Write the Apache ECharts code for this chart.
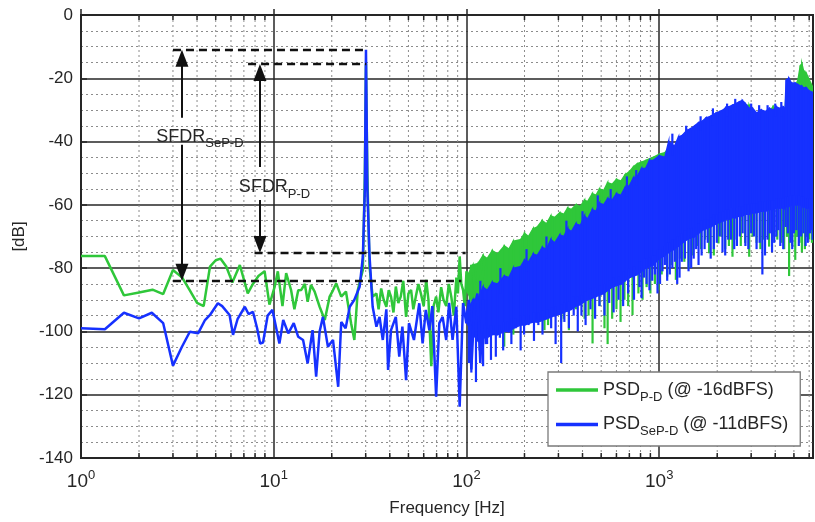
<!DOCTYPE html>
<html lang="en">
<head>
<meta charset="UTF-8">
<title>PSD / SFDR</title>
<script src="https://cdn.jsdelivr.net/npm/echarts@6/dist/echarts.min.js"></script>
<style>
  html, body { margin: 0; padding: 0; background: #fff; }
  #chart { width: 815px; height: 522px; }
</style>
</head>
<body>
<div id="chart"></div>
<script>
var FONT = 'Liberation Sans, Arial, sans-serif';
var INK = '#262626';
var GREEN = '#2fc73a';
var BLUE = '#1631ff';
var FMIN = 1, FMAX = 6280;

// low part of the spectra (Hz, dB), read point by point
var pdLowF = [1, 1.33, 1.67, 2, 2.35, 2.67, 3, 3.35, 3.67, 4, 4.33, 4.67, 5, 5.3, 5.67, 6.1, 6.67, 7.33, 7.8, 8.33,
  8.97, 9.5, 10.1, 10.5, 11.1, 11.6, 12.3, 12.8, 13.4, 13.9, 14.5, 15, 15.6, 16.3, 17.3, 18.4, 19.5, 20.3, 21.1, 22.4,
  23.7, 25.2, 26.2, 27.3, 29, 29.7, 30.1, 30.6, 31.4, 32.6, 34.1, 35, 36.1, 37.2, 38.4, 39.5, 40.6, 41.8, 43, 44.3,
  45.6, 47, 48.6, 50, 51.6, 53, 54.6, 56.3, 58, 60, 61.8, 63.5, 65.7, 67.5, 69.6, 71.5, 73.9, 76, 78.5, 81,
  83.4, 86, 88.6, 90.3, 92.2, 94, 96, 98, 100, 102, 104, 106, 108, 112, 116, 120, 124];
var pdLowV = [-76.2, -76.2, -88.6, -87.7, -86.8, -88.2, -80.6, -83, -87, -91, -92, -79.5, -77.5, -77, -79.5, -84.5, -79, -88, -85, -82.5,
  -81, -91.5, -86, -81, -92, -81.6, -86.9, -93, -87, -86.9, -85, -90.6, -85.3, -87.4, -92.2, -96.4, -89, -87, -84.8, -89,
  -87.4, -97.4, -102.7, -86.9, -80.6, -50, -15.5, -50, -79.5, -89, -88, -93, -86.4, -90, -92.2, -87, -89, -94, -85.8, -91,
  -89, -84, -95.4, -88, -86.9, -93, -89, -85, -88, -92, -83.7, -90, -111, -92, -89, -94, -86, -90, -92, -85,
  -89, -95, -83, -88, -76.3, -85, -86.9, -92, -81, -80.6, -85, -79, -80, -90, -78, -86, -77];

var sepdLowF = [1, 1.33, 1.67, 2, 2.33, 2.67, 3, 3.33, 3.67, 4.05, 4.4, 4.67, 5.13, 5.4, 5.9, 6.15, 6.5, 7.08, 7.4, 7.8,
  8.2, 8.5, 8.8, 9.3, 9.85, 10.7, 11.2, 11.9, 12.7, 13.4, 14.2, 15, 15.9, 16.6, 17.3, 18, 19.1, 20.3, 21.6, 22.4,
  23.6, 24.8, 26.2, 27.9, 29, 29.7, 30.1, 30.6, 31.4, 32.6, 34.1, 35.4, 36.8, 38.4, 39.2, 40.6, 43, 44.8, 46.5, 48.6,
  50.3, 53.4, 56.9, 59.2, 61.5, 64.2, 66.5, 69.6, 72.3, 75.2, 78.5, 81.3, 84.7, 88.6, 92.2, 96, 99.8, 103, 106, 110,
  114, 118, 122, 126];
var sepdLowV = [-99, -99.3, -94.1, -95.9, -94.1, -97.4, -110.8, -105, -100.1, -100.6, -96.4, -94.8, -91.1, -92, -94.8, -101.1, -96, -92.2, -94.5, -93.8,
  -99, -103.8, -103.5, -95, -93.2, -103.8, -96.4, -100.6, -97.4, -101.7, -102.7, -110.1, -99.6, -114.3, -100, -95.4, -104.8, -102.7, -117.5, -97,
  -99, -92.2, -90, -85.9, -76.4, -55, -11, -55, -76, -92.2, -98.5, -95.4, -102.7, -93, -112.2, -99.6, -95.4, -108, -98.5, -115.4,
  -97.4, -102.7, -91.1, -103.8, -93.2, -99.6, -92, -120.6, -97.4, -95.4, -102.7, -91, -102.7, -92.2, -123.8, -91, -97.4, -90, -112, -92,
  -88, -110, -90, -104];

// dense part above 100 Hz: upper edge and lower edge of the filled body
var bandF = [100, 108, 115, 122, 128, 136, 145, 157, 166, 175, 191, 200, 210, 222, 233, 247, 260, 274, 287, 305,
  320, 335, 350, 370, 390, 410, 425, 450, 470, 490, 515, 540, 570, 600, 633, 665, 700, 735, 770, 810,
  850, 890, 930, 1000, 1070, 1120, 1200, 1260, 1320, 1390, 1450, 1530, 1600, 1680, 1750, 1850, 1970, 2060, 2150, 2230,
  2310, 2400, 2500, 2600, 2700, 2800, 2930, 3050, 3200, 3380, 3560, 3730, 3900, 4050, 4200, 4400, 4500, 4560, 4700, 4850,
  5080, 5250, 5400, 5500, 5600, 5800, 6000, 6280];
var sepdTop = [-94, -90, -89.5, -86, -87, -84.5, -85, -82.5, -83, -80, -79.5, -77.5, -78, -75.5, -76, -73.5, -74, -71, -72, -69.5,
  -70, -67.5, -68.5, -66, -66.5, -63.5, -64.5, -61.5, -62, -59.5, -60, -58, -58.5, -56.5, -57, -54.5, -54, -51.5, -51, -48.5,
  -48.5, -46, -46, -44.5, -45, -40, -41.5, -38.5, -38, -36.5, -36, -35, -34, -33.5, -32.5, -32, -31, -30.5, -30, -29,
  -29, -28.5, -28, -27.5, -27, -28, -29.5, -29.5, -31, -30, -30.5, -29.5, -30, -29, -29.5, -29, -29.5, -20.5, -20, -21.5,
  -21.5, -22, -22.5, -22.5, -23, -23, -24, -24.5];
var sepdBot = [-97, -101, -103, -102, -102, -101, -101, -100, -100, -99, -98, -98, -97.5, -97, -97, -96.5, -96, -95.5, -95, -94.5,
  -94, -93.5, -93, -92, -91.5, -90.5, -90, -89.5, -89, -88.5, -88, -87, -86, -85.5, -85, -84, -83, -82.5, -82, -81,
  -80, -79.5, -79, -77, -76, -75, -74, -73, -72, -71, -70.5, -70, -69, -68, -67.5, -67, -66, -65.5, -65, -64.5,
  -64.5, -64, -64, -63.5, -63.5, -63, -63, -62.5, -62.5, -62, -62, -61.5, -61.5, -61, -61, -61, -61, -60.5, -60.5, -60,
  -60, -60, -60, -60.5, -60.5, -61, -61, -61];
var pdTop = [-83, -79, -78.5, -76, -77, -74.5, -75.5, -73, -74, -71.5, -71, -69, -70, -67.5, -67, -65, -66, -63.5, -64, -62.5,
  -63, -61, -61.5, -60, -60.5, -58.5, -59, -56.5, -57, -55, -55.5, -53, -53.5, -52, -52.5, -50.5, -49.5, -48, -47, -46.5,
  -46, -45.5, -45, -44, -43.5, -42, -42.5, -40, -39.5, -37.5, -37, -36, -35, -34.5, -33.5, -33, -32, -31.5, -31, -30,
  -30, -29.5, -29, -28.5, -28, -28.5, -28.5, -31, -32, -31, -31.5, -30.5, -29, -30, -30.5, -30, -30, -24, -23, -22.5,
  -22.5, -20.5, -16, -15.5, -17.5, -18.5, -20.5, -23];
var pdBot = [-87, -91, -93, -92.5, -92.5, -92, -91.5, -91, -90.5, -90, -89, -89, -88.5, -88, -88, -87.5, -87, -86.5, -86, -86,
  -85.5, -85, -85, -84.5, -84, -83.5, -83, -82.5, -82, -81.5, -81, -80.5, -80, -79.5, -79, -78.5, -78, -77.5, -77, -76.5,
  -76, -75.5, -75, -74, -73, -72.5, -72, -71, -70, -69.5, -69, -68, -67, -66.5, -66, -65.5, -65, -64.5, -64, -63.5,
  -63, -63, -62.5, -62.5, -62, -62, -62, -61.5, -61.5, -61, -61, -61, -60.5, -60.5, -60.5, -60, -60, -60, -60, -60,
  -60, -60, -60, -60, -60, -60, -60, -60];

// deep dips hanging below the body (Hz, dB)
var sepdSpikeF = [103, 106, 112, 117, 122, 128, 134, 142, 149, 155, 163, 171, 180, 191, 199, 210, 224, 236, 248, 262,
  275, 290, 310, 322, 340, 360, 378, 395, 415, 440, 465, 490, 520, 550, 580, 615, 650, 690, 740, 790,
  810, 835, 860, 890, 920, 950, 980, 1010, 1040, 1070, 1100, 1135, 1170, 1205, 1240, 1275, 1310, 1360, 1420, 1465,
  1510, 1555, 1600, 1660, 1720, 1785, 1850, 1920, 1990, 2060, 2130, 2200, 2280, 2360, 2450, 2530, 2620, 2710, 2800, 2900,
  3000, 3100, 3200, 3320, 3430, 3540, 3650, 3750, 3850, 3950, 4050, 4150, 4250, 4400, 4530, 4650, 4800, 4900, 5000, 5150,
  5300, 5450, 5600, 5750, 5900, 6050, 6150, 6250];
var sepdSpikeV = [-110, -113, -116, -106, -111, -104, -109, -108, -102, -106, -100, -104, -99, -106, -101, -98, -103, -98, -101, -96,
  -99, -104, -110, -97, -99, -95, -100, -95, -98, -93, -96, -92, -95, -91, -94, -90, -92, -88, -90, -86,
  -89.5, -83, -85, -87, -84, -82, -88, -85, -81, -79, -84, -82, -80, -78, -85, -83, -78, -77, -81, -80,
  -77, -74, -79, -76, -74, -72, -77, -74, -72, -70, -75, -76, -71, -71, -74, -73, -70, -69, -73, -74,
  -69, -70, -74, -72, -82, -76, -71, -69, -75, -72, -70, -68, -73, -74, -67, -69, -72, -74, -69, -68,
  -73, -70, -69, -73, -72, -69, -68, -71];
var pdSpikeF = [104, 110, 118, 125, 132, 140, 157, 170, 175, 185, 200, 220, 240, 254, 265, 280, 300, 310, 320, 340,
  370, 410, 430, 451, 490, 520, 540, 570, 600, 630, 660, 690, 727, 780, 820, 860, 900, 950, 990, 1030,
  1100, 1160, 1220, 1280, 1350, 1420, 1500, 1580, 1650, 1730, 1815, 1920, 2030, 2100, 2200, 2300, 2400, 2520, 2650, 2790,
  2930, 3050, 3200, 3350, 3500, 3716, 3900, 4100, 4300, 4450, 4600, 4720, 4900, 5080, 5200, 5350, 5500, 5700, 5850, 6000,
  6200];
var pdSpikeV = [-100, -97, -96, -101, -99, -95, -104.8, -97, -101, -95, -96, -94, -97, -99.6, -98, -95, -93, -97, -96, -99.6,
  -93, -96, -95, -103.8, -92, -99, -104, -96, -93, -97, -90, -92, -94.8, -88, -90, -86, -88, -85, -87, -82,
  -82.7, -79, -83.7, -77, -78, -80, -76, -73, -74, -71, -75.3, -76, -72.2, -70, -74, -73, -76.4, -71, -73, -72,
  -76.4, -70, -72, -74, -71, -73.2, -70, -71, -72, -74, -70, -82.5, -73, -77.4, -70, -72, -75, -74, -70, -71,
  -72];
// short crests poking above the blue body
var sepdCrestF = [118, 150, 205, 260, 330, 400, 480, 560, 680, 760, 1170, 1380, 1640, 1900, 2250, 2480, 3000, 3300, 3650, 4000, 4300];
var sepdCrestV = [-84, -80, -74, -70, -65, -62, -57, -55, -51, -49, -37.5, -35, -32, -29.5, -28, -26.5, -28, -28.5, -28.5, -28, -27.5];

// SFDR reference levels (dB)
var toneSePD = -11, tonePD = -15.5, spurPD = -75.2, spurSePD = -84;

var chart = echarts.init(document.getElementById('chart'));

function pairs(f, v) {
  return f.map(function (x, i) { return [x, v[i]]; });
}

function bandRows(top, bot) {
  var out = [];
  for (var i = 0; i < bandF.length - 1; i++) {
    out.push([bandF[i], top[i], bot[i], bandF[i + 1], top[i + 1], bot[i + 1]]);
  }
  return out;
}

// each dip/crest is drawn from its value into the body (nearest band point)
function spikeRows(f, v, edge, into) {
  return f.map(function (x, i) {
    var k = 0, best = Infinity;
    bandF.forEach(function (b, j) {
      var d = Math.abs(Math.log(b) - Math.log(x));
      if (d < best) { best = d; k = j; }
    });
    return [x, v[i], edge[k] + into];
  });
}

function renderBand(color) {
  return function (params, api) {
    var a = api.coord([api.value(0), api.value(1)]);
    var b = api.coord([api.value(3), api.value(4)]);
    var c = api.coord([api.value(3), api.value(5)]);
    var d = api.coord([api.value(0), api.value(2)]);
    return {
      type: 'polygon',
      shape: { points: [a, b, c, d] },
      style: { fill: color, stroke: color, lineWidth: 1.5 }
    };
  };
}

function renderSpike(color) {
  return function (params, api) {
    var p = api.coord([api.value(0), api.value(1)]);
    var q = api.coord([api.value(0), api.value(2)]);
    return {
      type: 'line',
      shape: { x1: p[0], y1: p[1], x2: q[0], y2: q[1] },
      style: { stroke: color, lineWidth: 2.2 }
    };
  };
}

// log minor grid (2..9 per decade) with small ticks on the top and bottom frame
var minorX = [];
[1, 10, 100, 1000].forEach(function (d) {
  for (var m = 2; m <= 9; m++) if (d * m < FMAX) minorX.push([d * m]);
});
function renderMinorX(params, api) {
  var t = api.coord([api.value(0), 0]);
  var b = api.coord([api.value(0), -140]);
  return {
    type: 'group',
    children: [
      { type: 'line', shape: { x1: t[0], y1: t[1], x2: b[0], y2: b[1] }, style: { stroke: '#8c8c8c', lineWidth: 1, lineDash: [2, 3] } },
      { type: 'line', shape: { x1: b[0], y1: b[1], x2: b[0], y2: b[1] - 5 }, style: { stroke: INK, lineWidth: 1.5 } },
      { type: 'line', shape: { x1: t[0], y1: t[1], x2: t[0], y2: t[1] + 5 }, style: { stroke: INK, lineWidth: 1.5 } }
    ]
  };
}

var subRich = {
  m: { fontSize: 18, color: INK, fontFamily: FONT },
  s: { fontSize: 13, color: INK, fontFamily: FONT, padding: [14, 0, 0, 0] }
};

var dash = { color: '#111', type: [8, 5], width: 2.4 };
var solid = { color: '#111', type: 'solid', width: 2 };
var head = [13, 17];

var option = {
  animation: false,
  backgroundColor: '#fff',
  grid: { left: 81, right: 2, top: 15, bottom: 64, show: true, borderColor: INK, borderWidth: 2 },
  xAxis: {
    type: 'log', logBase: 10, min: FMIN, max: FMAX,
    name: 'Frequency [Hz]', nameLocation: 'middle', nameGap: 42,
    nameTextStyle: { fontSize: 17, color: INK, fontFamily: FONT },
    axisLine: { lineStyle: { color: INK, width: 2 } },
    axisTick: { inside: true, length: 6, lineStyle: { color: INK, width: 1.5 } },
    axisLabel: {
      margin: 11, showMaxLabel: false,
      formatter: function (v) {
        var e = Math.log10(v);
        if (Math.abs(e - Math.round(e)) > 1e-6) return '';
        return '{b|10}{e|' + Math.round(e) + '}';
      },
      rich: {
        b: { fontSize: 19, color: INK, fontFamily: FONT },
        e: { fontSize: 13, color: INK, fontFamily: FONT, padding: [0, 0, 12, 0] }
      }
    },
    splitLine: { show: true, lineStyle: { color: INK, width: 1.5 } }
  },
  yAxis: {
    type: 'value', min: -140, max: 0, interval: 20,
    name: '[dB]', nameLocation: 'middle', nameGap: 44,
    nameTextStyle: { fontSize: 17, color: INK, fontFamily: FONT },
    axisLine: { show: true, lineStyle: { color: INK, width: 2 } },
    axisTick: { show: true, inside: true, length: 6, lineStyle: { color: INK, width: 1.5 } },
    axisLabel: { fontSize: 17, color: INK, fontFamily: FONT, margin: 8 },
    splitLine: { lineStyle: { color: INK, width: 1.5 } },
    minorTick: { show: false, splitNumber: 4 },
    minorSplitLine: { show: true, lineStyle: { color: '#8c8c8c', type: [2, 3], width: 1 } }
  },
  legend: {
    left: 548, top: 372, orient: 'vertical',
    data: [{ name: 'pd', icon: 'rect' }, { name: 'sepd', icon: 'rect' }],
    itemWidth: 42, itemHeight: 3.5, itemGap: 12,
    padding: [9, 12, 8, 8],
    backgroundColor: '#fff', borderColor: '#7a7a7a', borderWidth: 1.3,
    selectedMode: false,
    formatter: function (n) {
      return n === 'pd' ? '{m|PSD}{s|P-D}{m| (@ -16dBFS)}' : '{m|PSD}{s|SeP-D}{m| (@ -11dBFS)}';
    },
    textStyle: { rich: subRich }
  },
  series: [
    { type: 'custom', name: 'minor', silent: true, z: 1, data: minorX, renderItem: renderMinorX },

    { type: 'line', name: 'pd', color: GREEN, z: 2, showSymbol: false, data: pairs(pdLowF, pdLowV),
      lineStyle: { color: GREEN, width: 2.5 } },
    { type: 'custom', name: 'pdBand', z: 2, clip: true, silent: true, data: bandRows(pdTop, pdBot), renderItem: renderBand(GREEN) },
    { type: 'custom', name: 'pdSpike', z: 2, clip: true, silent: true, data: spikeRows(pdSpikeF, pdSpikeV, pdBot, 3), renderItem: renderSpike(GREEN) },

    { type: 'line', name: 'sepd', color: BLUE, z: 3, showSymbol: false, data: pairs(sepdLowF, sepdLowV),
      lineStyle: { color: BLUE, width: 2.5 } },
    { type: 'custom', name: 'sepdBand', z: 3, clip: true, silent: true, data: bandRows(sepdTop, sepdBot), renderItem: renderBand(BLUE) },
    { type: 'custom', name: 'sepdSpike', z: 3, clip: true, silent: true, data: spikeRows(sepdSpikeF, sepdSpikeV, sepdBot, 3), renderItem: renderSpike(BLUE) },
    { type: 'custom', name: 'sepdCrest', z: 3, clip: true, silent: true, data: spikeRows(sepdCrestF, sepdCrestV, sepdTop, -3), renderItem: renderSpike(BLUE) },

    {
      type: 'scatter', name: 'annot', z: 10, silent: true, data: [],
      markLine: {
        silent: true, symbol: 'none', label: { show: false }, lineStyle: dash,
        data: [
          [{ coord: [3.0, toneSePD] }, { coord: [30.2, toneSePD] }],
          [{ coord: [7.36, tonePD] }, { coord: [30.2, tonePD] }],
          [{ coord: [7.95, spurPD] }, { coord: [99, spurPD] }],
          [{ coord: [3.0, spurSePD] }, { coord: [94, spurSePD] }],
          [{ coord: [3.34, -32.5], lineStyle: solid }, { coord: [3.34, toneSePD - 2.7], symbol: 'triangle', symbolSize: head }],
          [{ coord: [3.34, -41], lineStyle: solid }, { coord: [3.34, spurSePD + 2.7], symbol: 'triangle', symbolSize: head }],
          [{ coord: [8.48, -48], lineStyle: solid }, { coord: [8.48, tonePD - 2.7], symbol: 'triangle', symbolSize: head }],
          [{ coord: [8.48, -58.5], lineStyle: solid }, { coord: [8.48, spurPD + 2.7], symbol: 'triangle', symbolSize: head }]
        ]
      },
      markPoint: {
        silent: true, symbol: 'rect', symbolSize: 0,
        label: { show: true, position: 'inside', rich: subRich },
        data: [
          { coord: [4.14, -38.5], label: { formatter: '{m|SFDR}{s|SeP-D}' } },
          { coord: [10.1, -54.5], label: { formatter: '{m|SFDR}{s|P-D}' } }
        ]
      }
    }
  ]
};

chart.setOption(option);
</script>
</body>
</html>
